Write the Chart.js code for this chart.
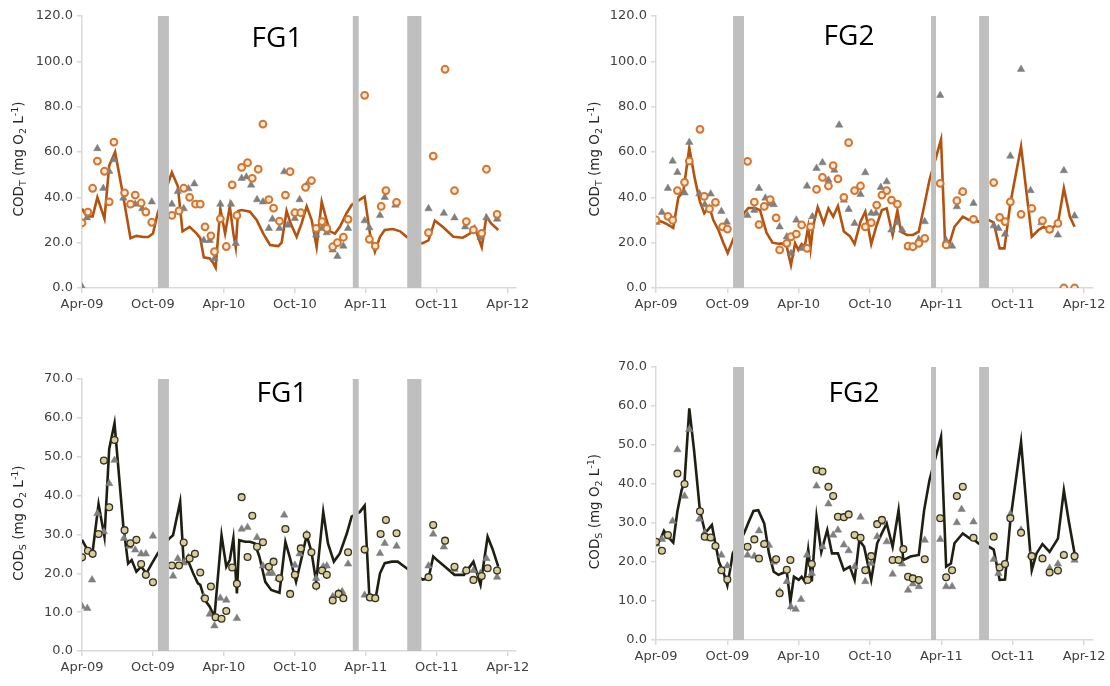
<!DOCTYPE html>
<html><head><meta charset="utf-8">
<script src="https://cdn.jsdelivr.net/npm/chart.js@4.4.1/dist/chart.umd.min.js"></script>
<style>
html,body{margin:0;padding:0;background:#fff;}
body{width:1110px;height:686px;position:relative;overflow:hidden;}
canvas{position:absolute;}
</style></head><body>
<canvas id="c1" width="550" height="330" style="left:0px;top:0px"></canvas>
<canvas id="c2" width="550" height="330" style="left:560px;top:0px"></canvas>
<canvas id="c3" width="550" height="346" style="left:0px;top:340px"></canvas>
<canvas id="c4" width="550" height="346" style="left:560px;top:340px"></canvas>
<script>
// x values are months after April 2009
const monthTickValues = [0, 6, 12, 18, 24, 30, 36];
const monthTickLabels = ['Apr-09', 'Oct-09', 'Apr-10', 'Oct-10', 'Apr-11', 'Oct-11', 'Apr-12'];
const panelTitles = ['FG1', 'FG2', 'FG1', 'FG2'];

// shaded periods [start month, end month]
const fg1Periods = [[6.42, 7.35], [22.9, 23.4], [27.5, 28.7]];
const fg2Periods = [[6.48, 7.40], [23.13, 23.55], [27.17, 28.0]];

// FG1 COD_T
const fg1CodTLine = [[0,35],[0.4,31.6],[0.9,31.6],[1.3,40],[1.9,30.6],[2.3,54],[2.8,60],[3.4,43],[4.1,22],[4.6,23],[5.2,22.5],[5.6,22.5],[6.0,24],[6.4,33],[7.4,48],[7.6,51],[8.1,45],[8.5,25],[9.1,27],[9.7,24],[10.0,22],[10.3,13.5],[10.8,13],[11.1,11],[11.3,9],[11.7,35],[12.1,24],[12.5,36],[12.8,24],[13.0,18],[13.2,34],[13.5,34.4],[14.2,33.7],[14.77,30],[15.33,24],[15.9,19],[16.6,18.5],[16.88,20],[17.3,34],[17.64,28.5],[18.15,22.6],[18.57,28.5],[19.0,36],[19.42,30],[19.84,18],[20.27,38],[20.68,30],[20.97,25],[21.39,24],[21.81,27],[22.37,33],[22.8,36.6],[23.5,39],[23.9,40.3],[24.35,24],[24.77,16],[25.2,22.6],[25.6,25.6],[26.3,26],[26.9,25],[27.45,22.6],[28.76,19.7],[29.3,21],[29.84,29.7],[30.5,27],[31.4,22.6],[32.2,22.2],[32.8,24],[33.2,27],[33.8,18],[34.2,31.5],[34.6,28.5],[35.2,25.6]];
const fg1CodTTriangles = [[0,0.5],[0.42,31],[1.3,61.5],[1.8,44],[2.3,51.5],[2.7,56.6],[3.5,39.7],[4.1,36.8],[4.5,37],[5.1,35],[5.4,34],[5.9,38],[7.6,37],[8.1,42.6],[8.6,35],[9.0,43.8],[9.5,46],[10.3,21],[10.8,21],[11.2,13],[11.7,37],[12.6,37],[13.0,19.7],[13.5,48.4],[13.9,49],[14.3,45.4],[14.8,39],[15.3,38],[15.8,26.3],[16.1,30.4],[16.7,26.3],[17.1,51.3],[17.4,27.8],[18.0,30.7],[18.4,39],[19.0,45.4],[19.8,23.4],[20.3,26.3],[20.7,24.4],[21.2,16.8],[21.6,14],[22.1,18.5],[22.5,26.3],[23.9,29.7],[24.3,26.6],[25.2,32],[25.6,40],[26.5,36.6],[29.3,35],[30.6,33],[31.5,31],[32.4,27],[33.1,25.6],[33.7,22.4],[34.2,31],[35.1,30.4]];
const fg1CodTCircles = [[0,28.7],[0.5,33.5],[0.9,44],[1.3,56],[1.9,51.5],[2.3,38],[2.7,64.4],[3.6,42],[4.1,37],[4.5,41],[5.0,37.5],[5.4,33.5],[5.9,29],[7.6,32],[8.2,34],[8.6,44],[9.1,40],[9.6,37],[10.0,37],[10.4,27],[10.9,23],[11.2,16],[11.7,30.5],[12.2,18.3],[12.7,45.5],[13.1,32],[13.5,53.2],[14.0,55.3],[14.4,48.4],[14.9,52.4],[15.3,72.3],[15.8,39],[16.2,35.2],[16.7,29.5],[17.2,41],[17.6,51.3],[18.0,33.2],[18.5,33.2],[18.9,44.4],[19.4,47.4],[19.8,26.3],[20.3,29.3],[20.7,26.3],[21.2,18.2],[21.6,20],[22.1,22.4],[22.5,30.3],[23.9,85],[24.3,21.5],[24.8,18.5],[25.3,36],[25.7,43],[26.6,37.8],[29.3,24.4],[29.7,58.2],[30.7,96.5],[31.5,43],[32.5,29.3],[33.1,25.6],[33.8,24.1],[34.2,52.4],[35.1,32.5]];

// FG2 COD_T
const fg2CodTLine = [[0,30],[0.6,29],[1.0,28],[1.45,26.5],[1.88,40],[2.3,42.6],[2.8,61.8],[3.28,47.8],[3.7,38],[4.06,33],[4.48,36],[4.82,30],[5.24,25.7],[5.66,20],[6.03,15.4],[6.37,19.9],[7.4,33],[7.77,35.3],[8.33,35.3],[8.75,34.3],[9.3,24.3],[9.8,20],[10.3,19.5],[10.57,19.7],[11.0,18.2],[11.35,10.1],[11.7,19.7],[11.97,16.8],[12.25,19.4],[12.5,18.2],[12.8,27],[13.0,17.5],[13.2,27],[13.6,35.6],[14.1,28.5],[14.5,35.1],[14.9,31.5],[15.3,36.2],[15.8,24.9],[16.3,22.9],[16.7,19.4],[17.2,29.3],[17.6,33.7],[18.1,19.4],[18.56,27.8],[19.0,34.4],[19.4,35.1],[19.9,23.4],[20.3,34.1],[20.6,24.9],[21.1,23.4],[21.6,23.4],[22.1,24.9],[22.6,37.4],[23.0,47.6],[23.97,65.5],[24.3,21],[24.7,20],[25.1,27],[25.8,31.5],[26.3,30],[26.7,30],[27.1,29.3],[28.0,30],[28.4,28.8],[28.9,17.5],[29.3,17.5],[29.8,37.4],[30.7,62.4],[31.6,22.6],[32.16,25.6],[32.6,27],[33.1,25.6],[33.8,28.5],[34.3,44],[34.8,31.5],[35.2,27]];
const fg2CodTTriangles = [[0.05,29],[0.5,33.4],[1.0,44],[1.4,56],[1.8,51],[2.4,42],[2.8,64.3],[3.65,41.6],[4.1,36.8],[4.6,41.5],[5.0,37.5],[5.5,33.8],[5.95,29.1],[7.7,32],[8.27,34.3],[8.66,44],[9.2,39.7],[9.5,37.2],[9.9,36.8],[10.4,27],[11.0,22.6],[11.35,15.3],[11.8,30],[12.3,17.5],[12.7,45],[13.15,31.5],[13.5,52.8],[14.0,55.3],[14.5,47.6],[15.0,52],[15.4,71.9],[15.8,38.8],[16.2,34.7],[16.7,28.5],[17.2,41.3],[17.6,50.9],[18.1,33],[18.5,33],[18.9,44.4],[19.4,46.9],[19.8,25.6],[20.3,28.8],[20.7,25.6],[21.2,18.2],[21.6,18.2],[22.1,21.5],[22.6,29.3],[23.9,85],[24.4,20.9],[24.9,18.5],[25.3,35.9],[25.7,42.5],[26.7,37.4],[28.4,27.5],[28.8,26.3],[29.35,23.8],[29.8,58.2],[30.7,96.5],[31.5,43],[32.4,28.8],[33.1,25.6],[33.8,23.4],[34.3,51.8],[35.2,31.8]];
const fg2CodTCircles = [[0,30],[1.0,31.6],[1.4,29.9],[1.8,43],[2.4,46.6],[2.8,56],[3.7,70],[4.06,40.4],[4.5,34.9],[5.0,37.8],[5.6,27],[6.0,26],[7.7,55.9],[8.27,37.9],[8.66,28],[9.1,36],[9.6,39],[10.1,30.9],[10.4,16.8],[11.0,19.7],[11.35,22.6],[11.8,23.8],[12.25,27.8],[12.7,17.5],[13.0,27],[13.5,43.5],[14.0,48.8],[14.5,45],[14.9,54],[15.3,48.1],[15.8,40],[16.2,64.1],[16.7,43],[17.2,45],[17.6,27],[18.1,28.8],[18.56,36.6],[19.0,41],[19.4,43],[19.8,38.8],[20.3,37],[21.2,18.5],[21.6,18.2],[22.1,19.7],[22.6,21.9],[23.9,46.2],[24.4,19],[25.3,38.5],[25.8,42.5],[26.7,30.3],[28.4,46.5],[28.9,31.2],[29.35,29.3],[29.8,38],[30.7,32.5],[31.6,35.1],[32.5,29.7],[33.1,25.9],[33.8,28.5],[34.3,0],[35.2,0]];

// FG1 COD_S
const fg1CodSLine = [[0,28.6],[0.4,26.4],[0.9,25.6],[1.4,37.8],[1.9,29.4],[2.3,52],[2.75,58.6],[3.5,32],[3.9,22.5],[4.2,23.4],[4.6,20.4],[5.0,21.7],[5.45,20],[5.9,22.5],[6.4,25.1],[7.4,29],[7.7,29.8],[8.3,38.4],[8.6,22.7],[9.0,23],[9.4,20],[9.8,17.4],[10.0,17],[10.4,13.1],[10.8,11.4],[11.2,8.8],[11.8,29.8],[12.2,21.7],[12.5,23.4],[12.8,29],[13.1,14.8],[13.3,28.5],[13.8,28.1],[14.2,28.1],[14.6,27.7],[15.0,24.3],[15.5,17.8],[16.0,15.7],[16.7,15],[17.2,28.1],[17.6,23.8],[18.1,17.8],[18.6,24.3],[19.0,29.8],[19.4,25.6],[19.8,17.8],[20.4,35.8],[20.8,27.7],[21.3,23],[21.8,25.1],[22.4,30.3],[22.8,34.6],[23.5,35.8],[23.9,37.4],[24.3,14],[24.8,13.1],[25.2,20],[25.6,22.6],[26.2,23],[26.7,23],[27.45,21.3],[28.8,18.4],[29.3,18.7],[29.7,24.3],[30.1,23.2],[30.7,21.7],[31.5,19.6],[32.3,19.6],[33.1,23],[33.7,17],[34.3,29.4],[34.7,26.4],[35.2,21.7]];
const fg1CodSTriangles = [[0,11.5],[0.45,11],[0.85,18.3],[1.3,35.4],[1.85,30.7],[2.3,43.1],[2.75,49.1],[3.55,29],[4.0,27],[4.5,26],[5.0,25],[5.4,25],[6.0,29.6],[7.7,19.3],[8.1,23.8],[8.6,22.7],[9.0,24.1],[9.5,25],[10.3,14],[10.8,9.5],[11.2,6.5],[11.7,13.6],[12.2,13.1],[13.1,8.4],[13.5,31.4],[14.0,31.8],[14.8,29.2],[15.3,21.9],[15.8,20],[16.1,20],[16.6,18.7],[17.1,35],[18.0,22.1],[18.4,25],[19.0,30.1],[19.8,18.7],[20.4,21.7],[20.7,21.9],[21.2,14],[21.7,15],[22.0,15.3],[22.5,22.4],[23.9,14.4],[24.35,13.7],[25.2,25.1],[25.6,27.7],[26.6,27],[29.3,21.9],[29.7,30.1],[30.6,26.8],[31.5,21],[32.4,20.8],[33.1,20.7],[33.7,20],[34.2,23.8],[35.1,19]];
const fg1CodSCircles = [[0,24.1],[0.5,25.8],[0.9,25],[1.4,30.1],[1.85,49],[2.3,37],[2.75,54.3],[3.6,31.1],[4.1,27.7],[4.6,28.6],[5.0,22.4],[5.4,19.6],[6.0,17.7],[7.6,22],[8.2,22],[8.6,27.9],[9.1,23.8],[9.55,25],[10.0,20.2],[10.4,13.5],[10.9,16.6],[11.3,8.7],[11.8,8.3],[12.2,10.3],[12.7,21.5],[13.1,17.3],[13.5,39.6],[14.0,24.2],[14.4,34.8],[14.8,26.8],[15.3,28],[15.8,21.7],[16.2,23],[16.7,18.7],[17.2,31.4],[17.6,14.7],[18.0,19.6],[18.5,26.4],[19.0,29.8],[19.4,25.4],[19.8,16.8],[20.3,20.7],[20.7,19.6],[21.2,13],[21.7,14.7],[22.1,13.6],[22.5,25.4],[23.9,26.1],[24.35,13.8],[24.8,13.6],[25.25,30.1],[25.7,33.7],[26.6,30.3],[29.3,19],[29.7,32.4],[30.7,28.4],[31.5,21.7],[32.5,20.7],[33.1,18.3],[33.8,19.3],[34.3,21.3],[35.1,20.7]];

// FG2 COD_S
const fg2CodSLine = [[0,25],[0.34,25.5],[0.67,28],[1.0,26.5],[1.45,25],[1.8,33],[2.15,38.4],[2.4,40.6],[2.8,59.4],[3.2,48.7],[3.7,33],[4.1,28],[4.3,28],[4.7,29.5],[5.0,24.6],[5.3,20],[5.7,17.1],[6.0,14],[6.3,19.2],[6.45,22.2],[7.4,27.3],[7.8,30.3],[8.2,33.1],[8.6,33.3],[9.1,29.9],[9.5,22.2],[9.9,17.5],[10.3,16.7],[10.6,17.1],[11.0,17.5],[11.3,9.8],[11.6,16.2],[12.0,15.4],[12.25,16.2],[12.5,15],[12.8,23.1],[13.1,15],[13.5,31.6],[13.9,22.6],[14.4,28.2],[14.8,22.2],[15.3,22.2],[15.8,17.9],[16.3,18.8],[16.7,15.4],[17.1,25.6],[17.5,23.9],[18.1,15.4],[18.6,24.8],[19.0,27.4],[19.4,29.9],[19.9,23.9],[20.4,33.3],[20.8,20.5],[21.4,21.4],[22.1,21.8],[22.55,33.3],[23.0,41],[23.97,52.1],[24.4,18.8],[24.8,19.6],[25.1,24.8],[25.8,27.3],[26.4,26],[26.8,25.6],[27.1,24.8],[28.0,23.9],[28.4,23.2],[28.9,15.4],[29.35,15.5],[29.8,30.7],[30.7,50.8],[31.6,17.9],[32.0,22.2],[32.5,24.6],[33.1,22.6],[33.8,26],[34.3,38.4],[34.7,30.7],[35.2,22.2]];
const fg2CodSTriangles = [[0.05,24.6],[0.5,25.8],[1.0,26.5],[1.4,30.5],[1.8,48.8],[2.4,36.9],[2.8,54],[3.65,31],[4.1,27.5],[4.55,26],[5.0,24],[5.5,21.8],[6.0,19],[7.7,21.8],[8.27,21.5],[8.66,28],[9.1,24.6],[9.5,24.3],[9.9,20],[10.4,12.4],[11.0,15],[11.35,8.5],[11.75,7.9],[12.2,10.4],[12.7,21.8],[13.1,17.1],[13.5,39.5],[14.0,23.9],[14.5,34.9],[14.9,26.9],[15.3,28.2],[15.8,24.4],[16.2,22.9],[16.7,18.8],[17.2,31.5],[17.6,15],[18.1,19.7],[18.6,26.5],[19.0,30.1],[19.4,25.2],[19.9,16.9],[20.3,20.5],[20.7,19.5],[21.2,12.8],[21.6,14.4],[22.1,13.7],[22.6,25.6],[23.9,25.8],[24.4,13.7],[24.9,13.7],[25.3,30.1],[25.7,33.5],[26.7,30.3],[28.4,20.7],[28.8,17.1],[29.35,19.5],[29.8,32.3],[30.7,28.2],[31.5,21.8],[32.5,20.9],[33.1,18.4],[33.8,19.5],[34.3,21.8],[35.2,20.5]];
const fg2CodSCircles = [[0,25.2],[0.5,22.9],[1.0,26.9],[1.8,42.7],[2.4,40],[3.7,33],[4.1,26.5],[4.6,26.3],[5.0,24.1],[5.5,17.9],[6.0,15.5],[7.7,23.9],[8.27,25.8],[8.66,20.9],[9.1,24.6],[10.1,20.7],[10.4,12],[11.0,18],[11.3,20.5],[12.75,15.4],[13.1,19.5],[13.5,43.6],[14.0,43.2],[14.5,39.3],[14.9,36.9],[15.3,31.6],[15.8,31.5],[16.2,32.2],[16.7,26.9],[17.2,26.2],[17.6,17.9],[18.1,21.5],[18.6,29.7],[19.0,30.8],[19.9,20.5],[20.4,20.5],[20.8,23.3],[21.2,16.2],[21.6,15.8],[22.1,15.4],[22.6,20.7],[23.9,31.2],[24.4,16.1],[24.9,17.9],[25.3,36.9],[25.8,39.3],[26.7,26.2],[28.4,26.5],[28.9,18.6],[29.35,19.5],[29.8,31.2],[30.7,27.5],[31.6,21.5],[32.5,20.9],[33.1,17.3],[33.8,17.8],[34.3,21.8],[35.2,21.5]];

const AXIS_GRAY = '#d9d9d9';
const TICK_FONT = {family: 'DejaVu Sans', size: 13};

const decor = {
  id: 'decor',
  afterDatasetsDraw(chart, args, o) {
    const ctx = chart.ctx, xs = chart.scales.x, a = chart.chartArea;
    ctx.save();
    ctx.fillStyle = '#bfbfbf';
    o.periods.forEach(([s, e]) => {
      const x1 = xs.getPixelForValue(s), x2 = xs.getPixelForValue(e);
      ctx.fillRect(x1, a.top, x2 - x1, a.bottom - a.top);
    });
    ctx.restore();
  },
  afterDraw(chart, args, o) {
    const ctx = chart.ctx, a = chart.chartArea;
    ctx.save();
    // panel title
    ctx.fillStyle = '#000';
    ctx.font = '28px "Open Sans"';
    ctx.textAlign = 'center';
    ctx.textBaseline = 'alphabetic';
    ctx.fillText(o.title, o.titleX, o.titleY);
    // y axis title with sub/superscripts
    const base = 13.5, small = 9.5;
    const segs = [
      {t: 'COD', s: base, dy: 0},
      {t: o.sub, s: small, dy: 3},
      {t: ' (mg O', s: base, dy: 0},
      {t: '2', s: small, dy: 3},
      {t: ' L', s: base, dy: 0},
      {t: '-1', s: small, dy: -5},
      {t: ')', s: base, dy: 0}
    ];
    let total = 0;
    segs.forEach(g => { ctx.font = g.s + 'px "DejaVu Sans"'; g.w = ctx.measureText(g.t).width; total += g.w; });
    ctx.translate(o.yTitleX, (a.top + a.bottom) / 2 + o.yTitleShift);
    ctx.rotate(-Math.PI / 2);
    ctx.fillStyle = '#262626';
    ctx.textAlign = 'left';
    let cx = -total / 2;
    segs.forEach(g => { ctx.font = g.s + 'px "DejaVu Sans"'; ctx.fillText(g.t, cx, 5 + g.dy); cx += g.w; });
    ctx.restore();
  }
};

function pts(arr) { return arr.map(([x, y]) => ({x, y})); }

function makePanel(id, c) {
  return new Chart(document.getElementById(id), {
    type: 'scatter',
    data: {
      datasets: [
        {data: pts(c.line), showLine: true, borderColor: c.lineColor, borderWidth: 2.6, pointRadius: 0, pointHoverRadius: 0, tension: 0, fill: false, order: 3},
        {data: pts(c.tri), pointStyle: 'triangle', pointRadius: 4.3, backgroundColor: '#7f7f7f', borderColor: '#7f7f7f', borderWidth: 0.5, order: 2},
        {data: pts(c.circ), pointStyle: 'circle', pointRadius: 3.4, backgroundColor: c.circFill, borderColor: c.circStroke, borderWidth: c.circBW, order: 1}
      ]
    },
    options: {
      responsive: false, animation: false, devicePixelRatio: 1,
      layout: {padding: {top: c.padTop, right: c.padRight, left: 0, bottom: 0}},
      plugins: {legend: {display: false}, tooltip: {enabled: false},
        decor: {periods: c.periods, title: c.title, titleX: c.titleX, titleY: c.titleY, sub: c.sub, yTitleX: c.yTitleX, yTitleShift: c.yTitleShift}},
      scales: {
        x: {
          type: 'linear', min: 0, max: c.xMax,
          afterBuildTicks: s => { s.ticks = monthTickValues.map(v => ({value: v})); },
          afterFit: s => { s.height = c.xH; },
          ticks: {callback: v => { const i = monthTickValues.indexOf(v); return i >= 0 ? monthTickLabels[i] : ''; },
                  font: TICK_FONT, color: '#404040', padding: 4, maxRotation: 0, autoSkip: false},
          grid: {drawOnChartArea: false, drawTicks: true, tickLength: 5, color: AXIS_GRAY, lineWidth: 1.5},
          border: {display: true, color: AXIS_GRAY, width: 1.5}
        },
        y: {
          min: 0, max: c.yMax,
          afterFit: s => { s.width = c.yW; },
          ticks: {stepSize: c.yStep, callback: v => Number(v).toFixed(1), font: TICK_FONT, color: '#404040', padding: 4},
          grid: {drawOnChartArea: false, drawTicks: true, tickLength: 5, color: AXIS_GRAY, lineWidth: 1.5},
          border: {display: true, color: AXIS_GRAY, width: 1.5}
        }
      }
    },
    plugins: [decor]
  });
}

const topLine = '#b4520f', botLine = '#1f1e12';
makePanel('c1', {line: fg1CodTLine, tri: fg1CodTTriangles, circ: fg1CodTCircles, periods: fg1Periods,
  lineColor: topLine, circFill: '#fdeadb', circStroke: '#d2772f', circBW: 2,
  yMax: 120, yStep: 20, xMax: 36.7, padTop: 16, padRight: 34, yW: 82, xH: 42,
  title: panelTitles[0], titleX: 277, titleY: 47, sub: 'T', yTitleX: 18, yTitleShift: 7});
makePanel('c2', {line: fg2CodTLine, tri: fg2CodTTriangles, circ: fg2CodTCircles, periods: fg2Periods,
  lineColor: topLine, circFill: '#fdeadb', circStroke: '#d2772f', circBW: 2,
  yMax: 120, yStep: 20, xMax: 36.75, padTop: 16, padRight: 17, yW: 96, xH: 42,
  title: panelTitles[1], titleX: 289, titleY: 45, sub: 'T', yTitleX: 34, yTitleShift: 7});
makePanel('c3', {line: fg1CodSLine, tri: fg1CodSTriangles, circ: fg1CodSCircles, periods: fg1Periods,
  lineColor: botLine, circFill: '#d8cd9c', circStroke: '#35311f', circBW: 1.3,
  yMax: 70, yStep: 10, xMax: 36.7, padTop: 39, padRight: 34, yW: 82, xH: 35,
  title: panelTitles[2], titleX: 282, titleY: 62, sub: 'S', yTitleX: 18, yTitleShift: 8});
makePanel('c4', {line: fg2CodSLine, tri: fg2CodSTriangles, circ: fg2CodSCircles, periods: fg2Periods,
  lineColor: botLine, circFill: '#d8cd9c', circStroke: '#35311f', circBW: 1.3,
  yMax: 70, yStep: 10, xMax: 36.75, padTop: 27, padRight: 17, yW: 96, xH: 46,
  title: panelTitles[3], titleX: 294, titleY: 62, sub: 'S', yTitleX: 34, yTitleShift: 8});
</script>
</body></html>
